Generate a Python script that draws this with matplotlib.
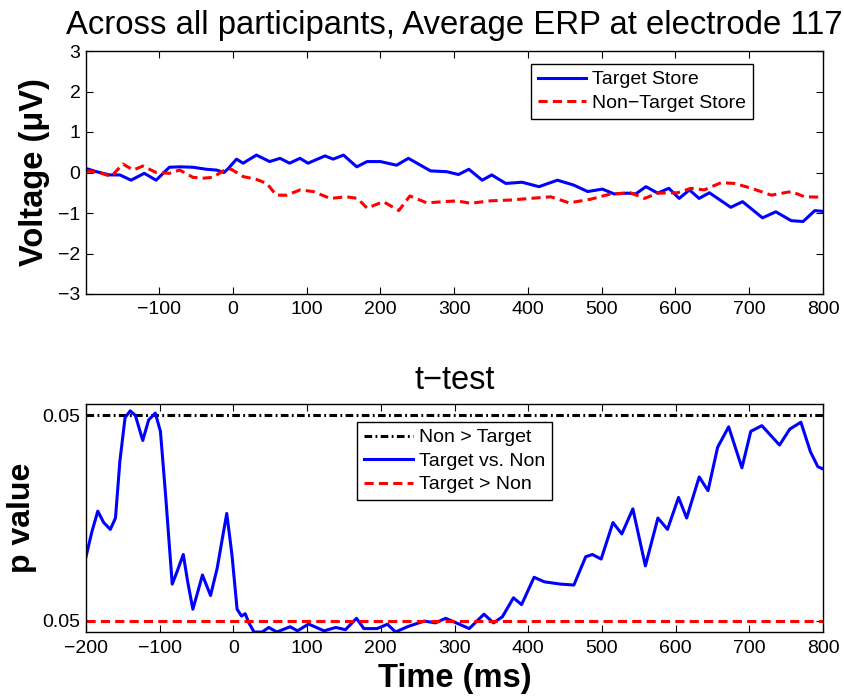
import matplotlib
matplotlib.use("Agg")
import matplotlib.pyplot as plt
import numpy as np

plt.rcParams['font.family'] = ['Liberation Sans', 'DejaVu Sans']

# top panel: average ERP (ms, microvolts)
erp_t_target = [-199, -185, -167, -153, -138, -120, -104, -86, -72, -54, -36, -22, -12, -6,
                5, 14, 32, 50, 64, 77, 91, 102, 125, 136, 150, 168, 182, 200, 222, 238,
                268, 290, 306, 320, 338, 351, 370, 392, 415, 440, 462, 481, 501, 517, 535,
                546, 560, 576, 591, 605, 619, 632, 646, 675, 691, 718, 736, 757, 773, 789, 800]
erp_v_target = [0.10, 0.02, -0.06, -0.06, -0.19, -0.02, -0.19, 0.13, 0.14, 0.13, 0.08, 0.06, 0.0, 0.10,
                0.33, 0.23, 0.43, 0.27, 0.35, 0.23, 0.35, 0.23, 0.41, 0.33, 0.43, 0.14, 0.27, 0.27, 0.18, 0.35,
                0.04, 0.02, -0.05, 0.08, -0.19, -0.06, -0.27, -0.24, -0.35, -0.19, -0.31, -0.47, -0.41, -0.53, -0.51,
                -0.53, -0.35, -0.51, -0.39, -0.64, -0.43, -0.64, -0.50, -0.86, -0.72, -1.12, -0.97, -1.19, -1.21, -0.94, -0.96]

erp_t_non = [-199, -181, -165, -149, -135, -122, -104, -86, -72, -54, -40, -27, -13, -2,
             14, 32, 46, 59, 73, 91, 109, 132, 154, 169, 182, 204, 225, 240, 263, 286,
             304, 322, 349, 376, 403, 431, 456, 485, 512, 539, 558, 576, 603, 621, 639,
             662, 680, 703, 730, 757, 775, 800]
erp_v_non = [0.04, 0.0, -0.10, 0.21, 0.06, 0.16, 0.0, -0.02, 0.06, -0.12, -0.14, -0.12, 0.04, 0.08,
             -0.10, -0.17, -0.27, -0.56, -0.56, -0.43, -0.47, -0.64, -0.60, -0.64, -0.88, -0.72, -0.94, -0.58, -0.75, -0.72,
             -0.70, -0.76, -0.70, -0.68, -0.64, -0.60, -0.75, -0.66, -0.53, -0.50, -0.64, -0.51, -0.50, -0.39, -0.43,
             -0.25, -0.27, -0.39, -0.56, -0.47, -0.60, -0.61]

# bottom panel: t-test curve (axis position, 0..1)
tt_t = [-200, -192, -184, -176, -167, -160, -154, -147, -140, -133, -123, -115, -106, -99, -92,
        -83, -77, -68, -62, -55, -48, -42, -31, -22, -15, -9, -2, 5, 11, 16, 21, 28, 39, 48, 59,
        77, 87, 102, 123, 139, 152, 167, 177, 195, 209, 220, 236, 259, 274, 288, 306, 320, 340,
        353, 365, 380, 391, 408, 422, 444, 462, 478, 487, 499, 515, 527, 542, 559, 576, 589, 604,
        615, 632, 644, 657, 672, 690, 702, 717, 741, 755, 770, 783, 793, 800]
tt_p = [0.33, 0.44, 0.53, 0.48, 0.45, 0.50, 0.75, 0.94, 0.97, 0.95, 0.84, 0.93, 0.96, 0.88, 0.60,
        0.21, 0.26, 0.34, 0.22, 0.10, 0.18, 0.25, 0.16, 0.28, 0.41, 0.52, 0.34, 0.10, 0.07, 0.08, 0.04, 0.0, 0.0, 0.02, 0.0,
        0.023, 0.005, 0.035, 0.005, 0.02, 0.01, 0.06, 0.015, 0.015, 0.034, 0.0, 0.023, 0.048, 0.04, 0.06, 0.035, 0.015, 0.078,
        0.04, 0.067, 0.15, 0.12, 0.24, 0.22, 0.21, 0.206, 0.33, 0.34, 0.32, 0.48, 0.43, 0.54, 0.29, 0.50, 0.45, 0.59,
        0.50, 0.68, 0.62, 0.81, 0.90, 0.72, 0.88, 0.905, 0.82, 0.89, 0.92, 0.79, 0.725, 0.715]

thr_upper = 0.95
thr_lower = 0.05
thr_x = [-200, 800]
p_ticks = [0.05, 0.95]
p_ticklabels = ['0.05', '0.05']

fig = plt.figure(figsize=(8.44, 6.96), dpi=100)

def style(ax):
    ax.tick_params(direction='in', top=True, right=True, length=5, width=0.8, labelsize=14)
    ax.tick_params(axis='x', pad=5)
    ax.tick_params(axis='y', pad=4)
    for s in ax.spines.values():
        s.set_linewidth(1.0)

legend_kw = dict(fontsize=14, frameon=True, fancybox=False, framealpha=1,
                 edgecolor='black', handlelength=2.5, handletextpad=0.3,
                 labelspacing=0.3, borderpad=0.35, borderaxespad=0)

ax1 = fig.add_axes([86/844, (696-294)/696, 737/844, 243/696])
ax1.plot(erp_t_target, erp_v_target, color='#0000ff', lw=2.2, solid_joinstyle='round', label='Target Store')
ax1.plot(erp_t_non, erp_v_non, color='#ff0000', lw=2.2, dashes=(3, 1.7), label='Non\u2212Target Store')
ax1.set_xlim(-199, 800)
ax1.set_ylim(-3, 3)
ax1.set_xticks(np.arange(-100, 801, 100))
ax1.set_yticks(np.arange(-3, 4, 1))
style(ax1)
ax1.set_title('Across all participants, Average ERP at electrode 117', fontsize=23.7, pad=12)
ax1.set_ylabel('Voltage (\u03bcV)', fontsize=23.5, fontweight='bold')
ax1.yaxis.set_label_coords(-0.049, 0.5)
leg1 = ax1.legend(loc='upper right', bbox_to_anchor=((753-86)/737, (294-64)/243), **legend_kw)
leg1.get_frame().set_linewidth(1.0)

ax2 = fig.add_axes([86/844, (696-632)/696, 737/844, 228/696])
ax2.plot(thr_x, [thr_upper, thr_upper], color='black', lw=2.2, dashes=(2.5, 1.1, 0.6, 1.1), label='Non > Target')
ax2.plot(tt_t, tt_p, color='#0000ff', lw=2.2, solid_joinstyle='round', label='Target vs. Non')
ax2.plot(thr_x, [thr_lower, thr_lower], color='#ff0000', lw=2.2, dashes=(3, 1.7), label='Target > Non')
ax2.set_xlim(-200, 800)
ax2.set_ylim(0, 1)
ax2.set_xticks(np.arange(-200, 801, 100))
ax2.set_yticks(p_ticks)
ax2.set_yticklabels(p_ticklabels)
style(ax2)
ax2.tick_params(axis='x', pad=6)
ax2.set_title('t\u2212test', fontsize=23.5, pad=11)
ax2.set_ylabel('p value', fontsize=23, fontweight='bold')
ax2.yaxis.set_label_coords(-0.066, 0.5)
ax2.set_xlabel('Time (ms)', fontsize=23.5, fontweight='bold')
ax2.xaxis.set_label_coords(0.5, -0.135)
leg2 = ax2.legend(loc='upper center', bbox_to_anchor=(0.5, (632-422)/228), **legend_kw)
leg2.get_frame().set_linewidth(1.0)

fig.savefig('out.png', dpi=100)
